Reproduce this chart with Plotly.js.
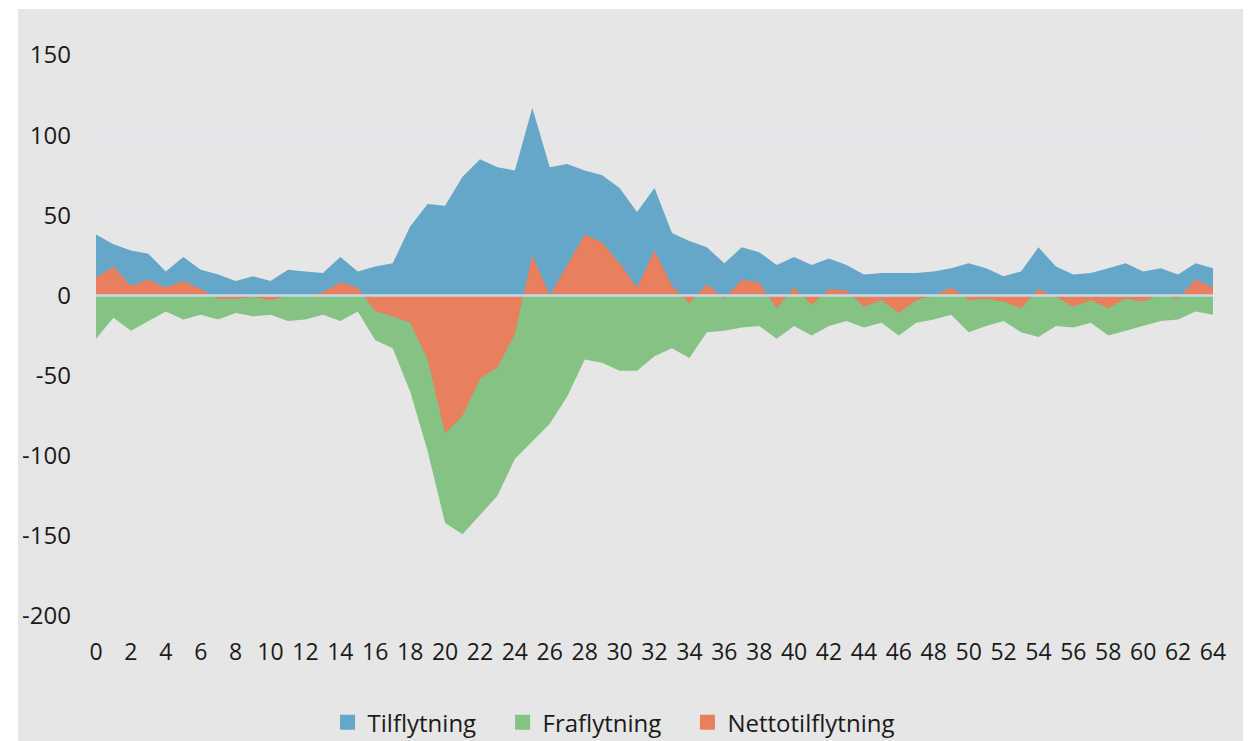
<!DOCTYPE html>
<html>
<head>
<meta charset="utf-8">
<script src="https://cdn.plot.ly/plotly-3.0.1.min.js"></script>
<style>
  html, body { margin: 0; padding: 0; background: #ffffff; width: 1251px; height: 741px; overflow: hidden; }
  #chart { position: absolute; left: 18px; top: 9px; width: 1225px; height: 732px; }
</style>
</head>
<body>
<div id="chart"></div>
<script>
// Age (0-64)
const ages = Array.from({length: 65}, (_, i) => i);

// Tilflytning (in-migration)
const tilflytning = [38,32,28,26,15,24,16,13,9,12,9,16,15,14,24,15,18,20,43,57,56,74,85,80,78,117,80,82,78,75,67,52,67,39,34,30,20,30,27,19,24,19,23,19,13,14,14,14,15,17,20,17,12,15,30,18,13,14,17,20,15,17,13,20,17];

// Fraflytning (out-migration, negative)
const fraflytning = [-27,-14,-22,-16,-10,-15,-12,-15,-11,-13,-12,-16,-15,-12,-16,-10,-28,-33,-60,-97,-142,-149,-137,-125,-102,-91,-80,-63,-40,-42,-47,-47,-38,-33,-39,-23,-22,-20,-19,-27,-19,-25,-19,-16,-20,-17,-25,-17,-15,-12,-23,-19,-16,-23,-26,-19,-20,-17,-25,-22,-19,-16,-15,-10,-12];

// Nettotilflytning (net)
const netto = [11,18,6,10,5,9,4,-2,-2,-1,-3,0,0,2,8,5,-10,-13,-17,-40,-86,-75,-52,-45,-24,25,0,19,38,33,20,5,28,6,-5,7,-2,10,8,-8,5,-6,4,3,-7,-3,-11,-3,0,5,-3,-2,-4,-8,4,-1,-7,-3,-8,-2,-4,1,-2,10,5];

const seriesNames = ['Tilflytning', 'Fraflytning', 'Nettotilflytning'];
const seriesColors = ['#64a7c8', '#84c383', '#e8805e'];
const xTicks = Array.from({length: 33}, (_, i) => i * 2);
const yTicks = [-200, -150, -100, -50, 0, 50, 100, 150];

const values = [tilflytning, fraflytning, netto];
const legendIds = ['legend', 'legend2', 'legend3'];
const legendX = [0.2073, 0.3640, 0.5295];

const traces = values.map((v, k) => ({
  x: ages, y: v, type: 'scatter', mode: 'lines', fill: 'tozeroy',
  line: {width: 0, color: seriesColors[k]}, fillcolor: seriesColors[k],
  showlegend: false, hoverinfo: 'skip', name: seriesNames[k]
}));
// legend entries (square swatches)
seriesNames.forEach((n, k) => traces.push({
  x: [null], y: [null], type: 'scatter', mode: 'markers', name: n,
  legend: legendIds[k],
  marker: {symbol: 'square', size: 15, color: seriesColors[k]}, hoverinfo: 'skip'
}));

const layout = {
  width: 1225, height: 732,
  paper_bgcolor: '#e6e6e6', plot_bgcolor: '#e6e6e6',
  margin: {l: 78, r: 30, t: 46, b: 125.3, pad: 0, autoexpand: false},
  font: {family: '"Open Sans", "Noto Sans", sans-serif', size: 24, color: '#1a1a1a'},
  xaxis: {
    range: [0, 64], tickvals: xTicks, ticktext: xTicks.map(String),
    showgrid: false, zeroline: false, showline: false, ticks: '',
    tickfont: {size: 23},
    ticklabelstandoff: 20, fixedrange: true
  },
  yaxis: {
    range: [-200, 150], tickvals: yTicks, ticktext: yTicks.map(String),
    showgrid: true, gridcolor: '#dde6ee', gridwidth: 2,
    zeroline: false, showline: false, ticks: '',
    ticklabelstandoff: 24, fixedrange: true
  },
  shapes: [{
    type: 'line', xref: 'paper', x0: 0, x1: 1, yref: 'y', y0: 0, y1: 0,
    line: {color: '#c4dae6', width: 2.5}, layer: 'above'
  }],
  hovermode: false
};
legendIds.forEach((id, k) => {
  layout[id] = {
    orientation: 'h', x: legendX[k], xanchor: 'left', y: -0.19, yanchor: 'middle',
    font: {size: 24, color: '#1a1a1a'}, bgcolor: 'rgba(0,0,0,0)', itemwidth: 30,
    itemclick: false, itemdoubleclick: false
  };
});

Plotly.newPlot('chart', traces, layout, {staticPlot: true, displayModeBar: false});
</script>
</body>
</html>
